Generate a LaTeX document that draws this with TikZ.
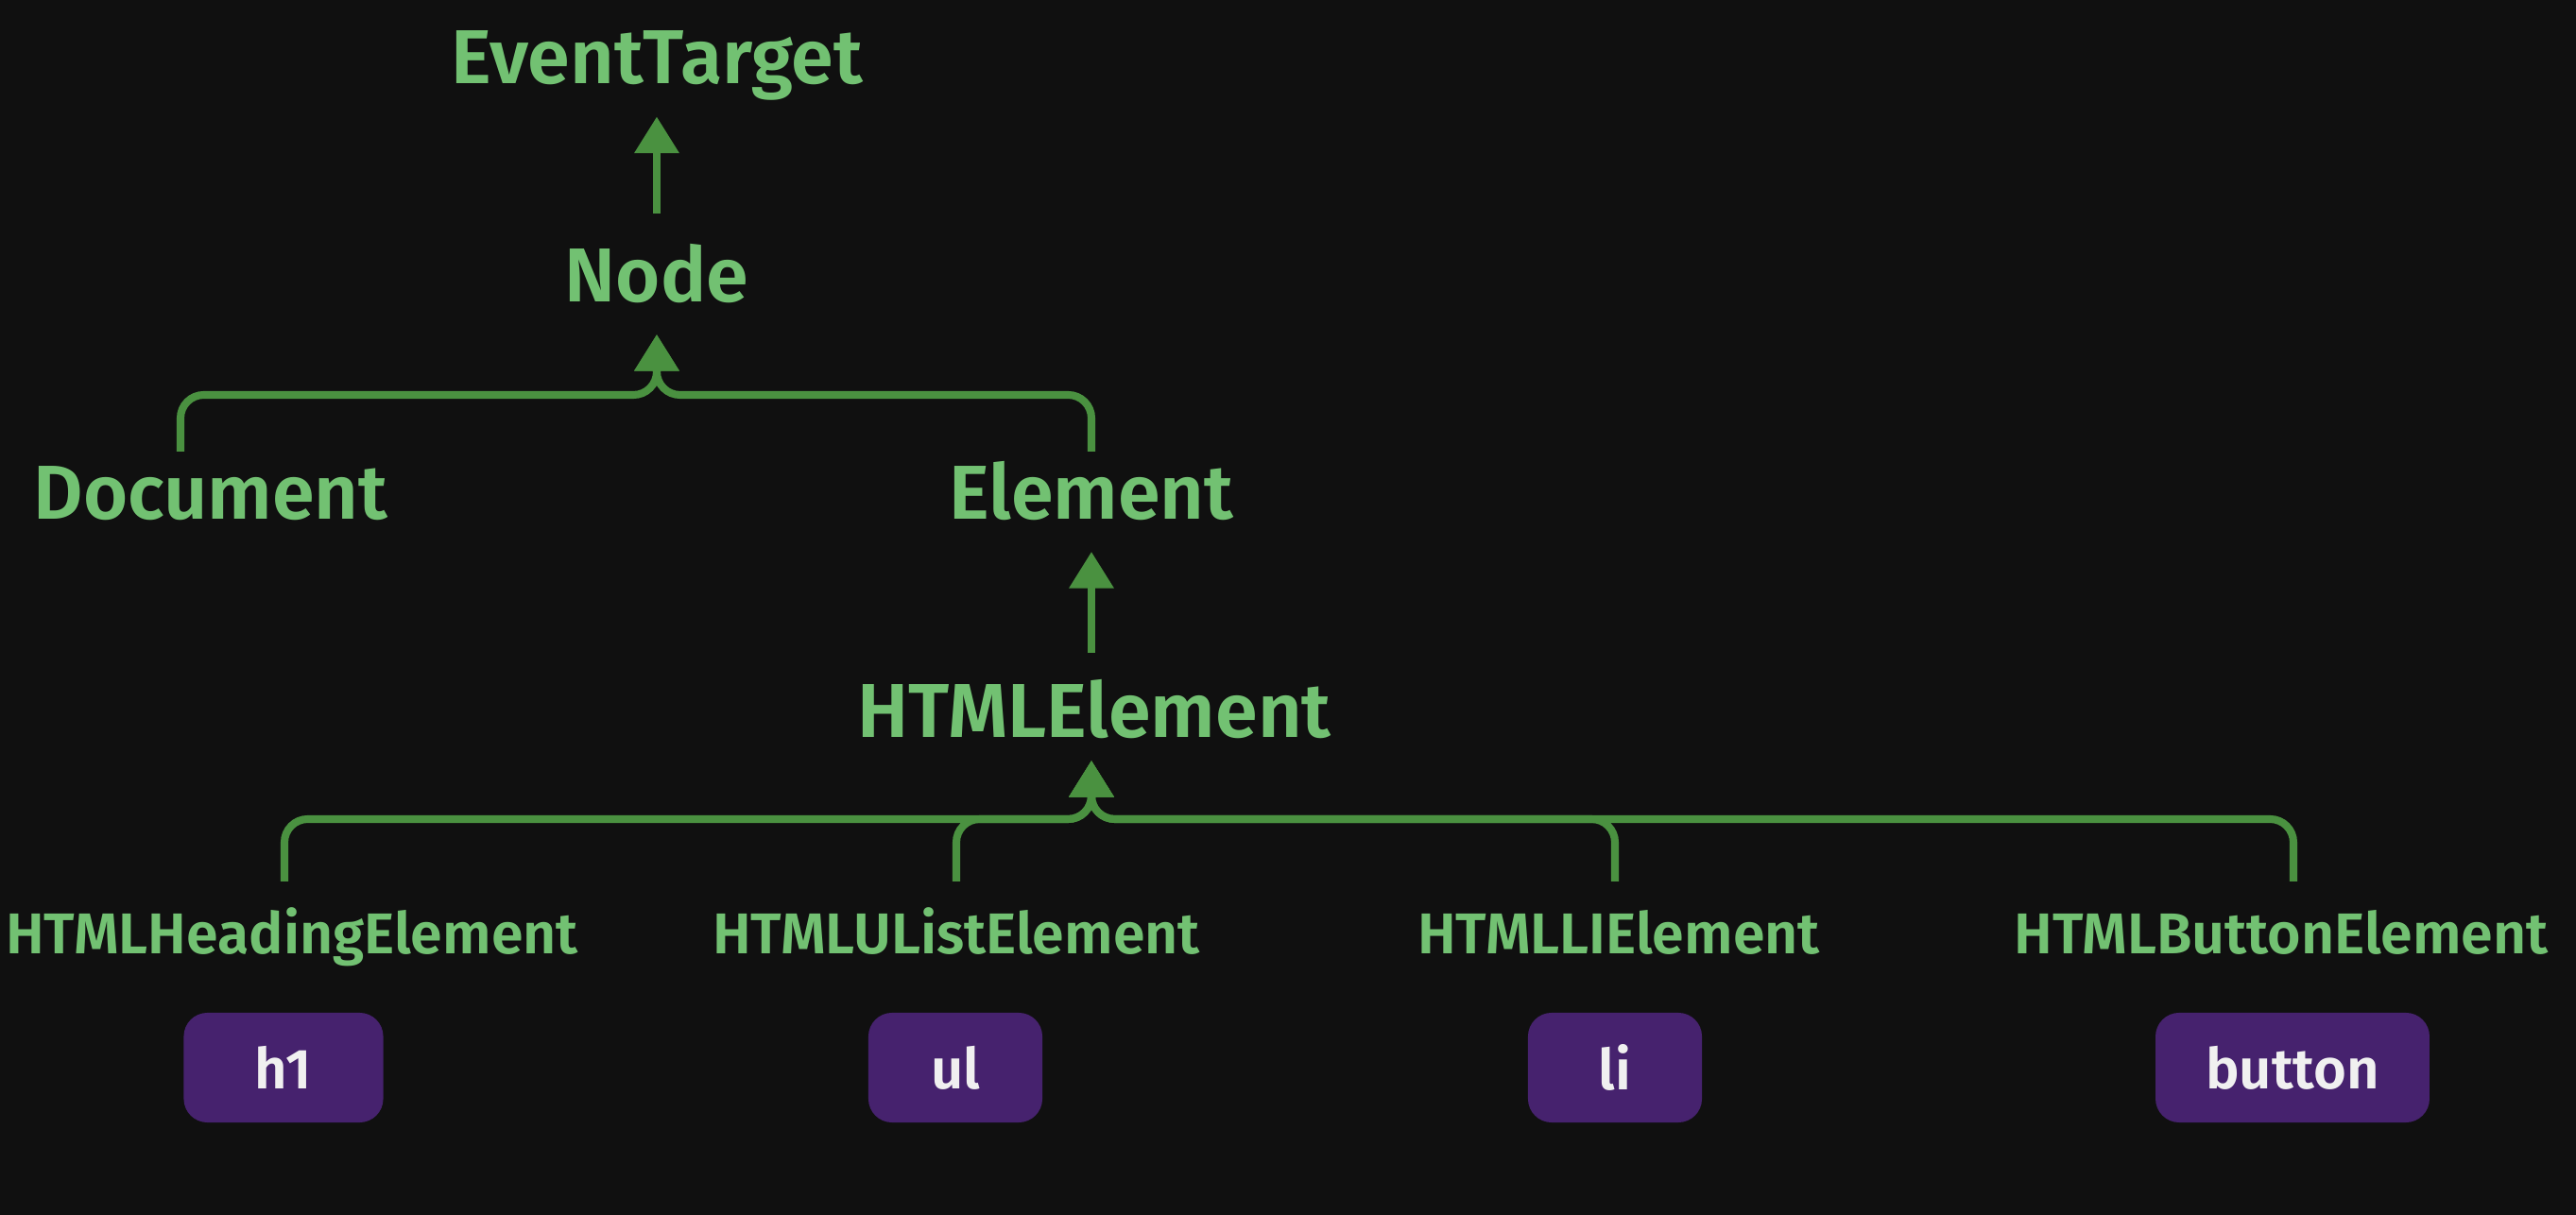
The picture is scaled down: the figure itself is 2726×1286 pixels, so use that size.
\documentclass[tikz,border=0pt]{standalone}
\usepackage{fontspec}
\IfFontExistsTF{Fira Sans SemiBold}
  {\setmainfont{Fira Sans}[BoldFont={Fira Sans SemiBold}]}
  {\setmainfont{Fira Sans}}
\usepackage{xcolor}
\usepackage{tikz}
\usetikzlibrary{arrows.meta,positioning}

\definecolor{bgdark}{HTML}{101010}
\definecolor{classgreen}{HTML}{72C172}
\definecolor{linegreen}{HTML}{4A9140}
\definecolor{tagpurple}{HTML}{46226E}
\definecolor{tagwhite}{HTML}{F0F0F0}

\begin{document}
\begin{tikzpicture}[
  x=0.01cm, y=-0.01cm,
  domclass/.style={
    text=classgreen, inner sep=0pt, anchor=base,
    font=\bfseries\fontsize{23}{27}\selectfont
  },
  subclass/.style={
    domclass, font=\bfseries\fontsize{17.3}{20}\selectfont
  },
  domtag/.style={
    fill=tagpurple, rounded corners=0.25cm,
    minimum width=1.84cm, minimum height=1.16cm, inner xsep=0.53cm,
    text=tagwhite, font=\bfseries\fontsize{17}{20}\selectfont
  },
  arr/.style={draw=linegreen, line width=2.3pt, rounded corners=7pt,
    -{Triangle[width=13pt,length=11pt]}},
]

\fill[bgdark] (0,0) rectangle (2726,1286);

%% ── Classes ──────────────────────────────────────────────────────────────────
\node[domclass] (eventtarget) at (695,89)   {EventTarget};
\node[domclass] (domnode)     at (695,320)  {Node};
\node[domclass] (document)    at (223,550)  {Document};
\node[domclass] (element)     at (1155,550) {Element};
\node[domclass] (htmlel)      at (1158,781) {HTMLElement};

\node[subclass] (heading) at (309,1010)  {HTMLHeadingElement};
\node[subclass] (ulist)   at (1012,1010) {HTMLUListElement};
\node[subclass] (lielem)  at (1713,1010) {HTMLLIElement};
\node[subclass] (button)  at (2414,1010) {HTMLButtonElement};

%% ── Tags ─────────────────────────────────────────────────────────────────────
\node[domtag, minimum width=2.11cm] (h1tag) at (300,1130)  {h1};
\node[domtag]                      (ultag)  at (1011,1130) {ul};
\node[domtag]                      (litag)  at (1709,1130) {li};
\node[domtag]                      (btntag) at (2426,1130) {button};

%% ── Joints ───────────────────────────────────────────────────────────────────
\coordinate (j1)       at (695,418);
\coordinate (docstem)  at (191,478);
\coordinate (elstem)   at (1155,478);
\coordinate (j2)       at (1155,867);
\coordinate (headstem) at (301,933);
\coordinate (ulstem)   at (1012,933);
\coordinate (listem)   at (1709,933);
\coordinate (btnstem)  at (2427,933);

%% ── Edges ───────────────────────────────────────────────────────────────────
\draw[arr, shorten <=0.32cm, shorten >=0.16cm] (domnode) -- (eventtarget);
\draw[arr, shorten >=0.32cm] (docstem) |- (j1) -- (domnode);
\draw[arr, shorten >=0.32cm] (elstem)  |- (j1) -- (domnode);
\draw[arr, shorten <=0.28cm, shorten >=0.32cm] (htmlel.north -| element) -- (element);
\draw[arr, shorten >=0.22cm] (headstem) |- (j2) -- (htmlel.south -| j2);
\draw[arr, shorten >=0.22cm] (ulstem)   |- (j2) -- (htmlel.south -| j2);
\draw[arr, shorten >=0.22cm] (listem)   |- (j2) -- (htmlel.south -| j2);
\draw[arr, shorten >=0.22cm] (btnstem)  |- (j2) -- (htmlel.south -| j2);

\end{tikzpicture}
\end{document}
